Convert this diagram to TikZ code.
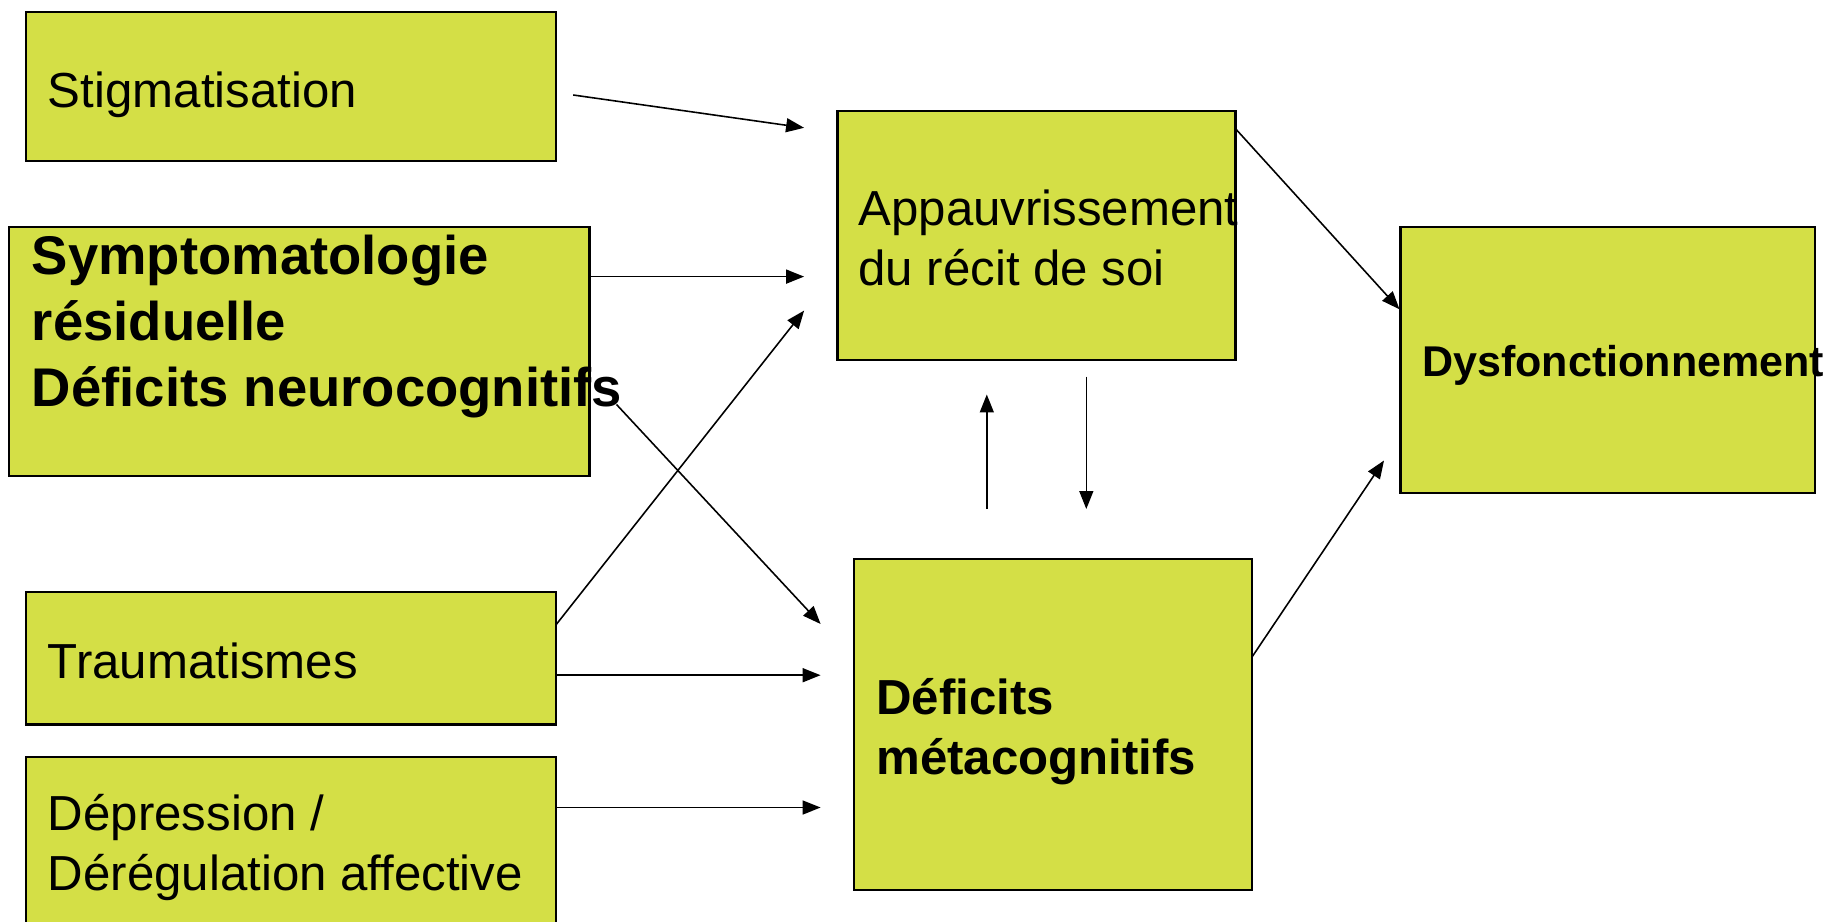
\documentclass[tikz,border=0pt]{standalone}
\usepackage{fontspec}
\setmainfont{Liberation Sans}
\usetikzlibrary{arrows.meta,fit}
\definecolor{boxgreen}{RGB}{212,223,70}
\tikzset{
  box/.style={draw=black, fill=boxgreen, line width=1.2pt, inner sep=0pt},
  lbl/.style={anchor=base west, inner sep=0pt, align=left, font=\fontsize{28}{34.1}\selectfont},
  arr/.style={-{Triangle[length=0.36cm,width=0.28cm]}, line width=0.9pt},
}
\begin{document}
\begin{tikzpicture}[x=0.02cm,y=-0.02cm]
\useasboundingbox (0,0) rectangle (1838,922);
\clip (0,0) rectangle (1838,922);
% boxes
\node[box, fit={(25.8,11.7) (555.6,160.6)}] (stig) {};
\node[box, fit={(9.2,227.3) (589.5,476)}] (symp) {};
\node[box, fit={(25.8,591.7) (555.6,724.5)}] (traum) {};
\node[box, fit={(25.8,757.3) (555.6,940)}] (depr) {};
\node[box, fit={(837.5,111.4) (1235.5,360)}] (app) {};
\node[box, fit={(854.3,558.8) (1252,890)}] (meta) {};
\node[box, fit={(1400.5,227) (1815,492.8)}] (dysf) {};
% texts (base = baseline of the last line)
\node[lbl] (stigtxt) at (47.6,107.3) {Stigmatisation};
\node[lbl, font=\fontsize{31}{37.7}\selectfont\bfseries] (symptxt) at (31.6,406.7) {Symptomatologie\\résiduelle\\Déficits neurocognitifs};
\node[lbl] (traumtxt) at (47.6,678.3) {Traumatismes};
\node[lbl] (deprtxt) at (47.6,890) {Dépression /\\Dérégulation affective};
\node[lbl] (apptxt) at (858.2,285.7) {Appauvrissement\\du récit de soi};
\node[lbl, font=\fontsize{28}{34.1}\selectfont\bfseries] (metatxt) at (876,774) {Déficits\\métacognitifs};
\node[lbl, font=\fontsize{24.5}{29}\selectfont\bfseries] (dysftxt) at (1422,376.8) {Dysfonctionnement};
% connector ends
\coordinate (stigout) at (573.2,95);
\coordinate (stigin) at (804.1,127.8);
\coordinate (sympout) at (589.5,276.6);
\coordinate (sympin) at (804.1,276.6);
\coordinate (traumup) at (556,624.8);
\coordinate (traumin) at (804.1,310.6);
\coordinate (sympdown) at (616.5,404.5);
\coordinate (metain) at (820.6,624);
\coordinate (traumout) at (556,675.2);
\coordinate (traumto) at (820.6,675.2);
\coordinate (deprout) at (556,807.5);
\coordinate (deprto) at (820.6,807.5);
\coordinate (appout) at (1235.5,128.7);
\coordinate (dysfin) at (1399.5,309.3);
\coordinate (metaout) at (1252,657);
\coordinate (dysflow) at (1384,460.5);
\coordinate (upfrom) at (986.8,509);
\coordinate (upto) at (986.8,394.5);
\coordinate (downfrom) at (1086.3,376.5);
\coordinate (downto) at (1086.3,509);
% connectors
\draw[arr] (stigout) -- (stigin);
\draw[arr] (sympout) -- (sympin);
\draw[arr] (traumup) -- (traumin);
\draw[arr] (sympdown) -- (metain);
\draw[arr] (traumout) -- (traumto);
\draw[arr] (deprout) -- (deprto);
\draw[arr] (appout) -- (dysfin);
\draw[arr] (metaout) -- (dysflow);
\draw[arr] (upfrom) -- (upto);
\draw[arr] (downfrom) -- (downto);
\end{tikzpicture}
\end{document}
